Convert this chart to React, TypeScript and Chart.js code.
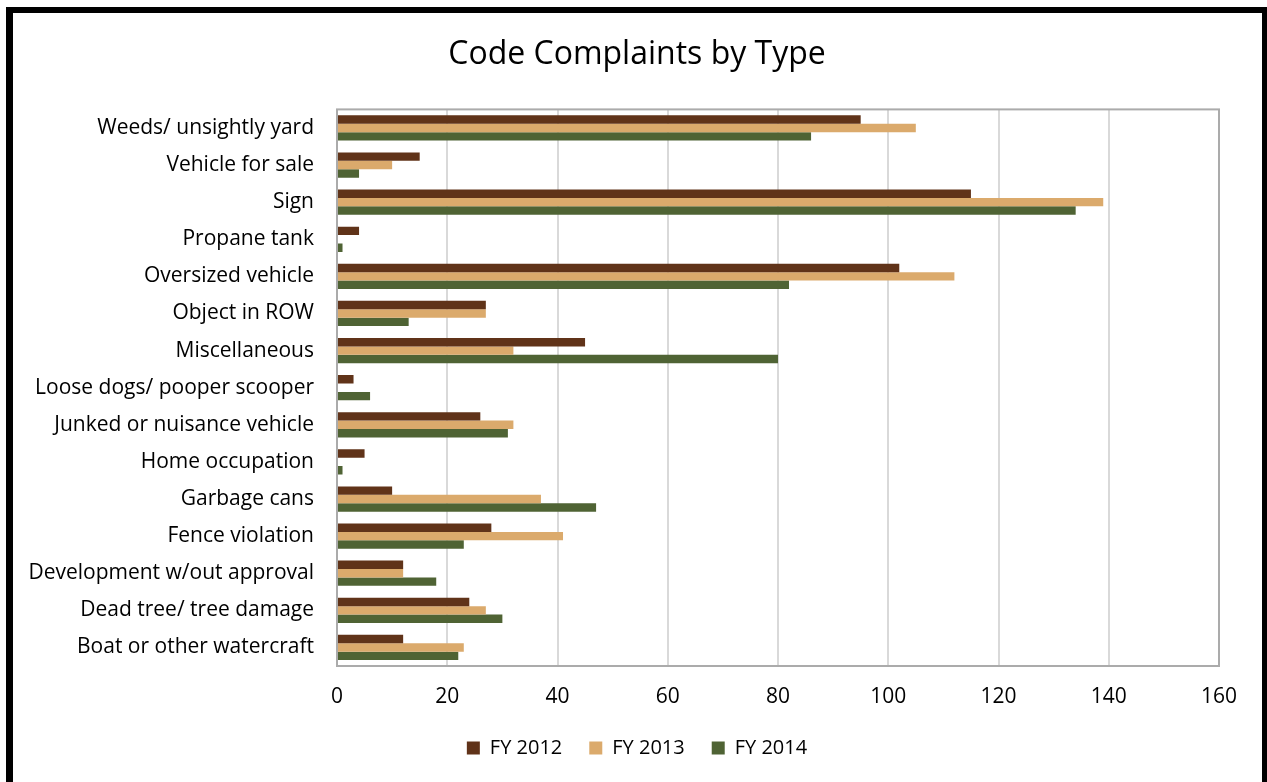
import React, { useEffect, useRef } from "react";
import { Chart, registerables } from "chart.js";

Chart.register(...registerables);

const categories = [
  "Weeds/ unsightly yard",
  "Vehicle for sale",
  "Sign",
  "Propane tank",
  "Oversized vehicle",
  "Object in ROW",
  "Miscellaneous",
  "Loose dogs/ pooper scooper",
  "Junked or nuisance vehicle",
  "Home occupation",
  "Garbage cans",
  "Fence violation",
  "Development w/out approval",
  "Dead tree/ tree damage",
  "Boat or other watercraft",
];

const fy2012 = [95, 15, 115, 4, 102, 27, 45, 3, 26, 5, 10, 28, 12, 24, 12];
const fy2013 = [105, 10, 139, 0, 112, 27, 32, 0, 32, 0, 37, 41, 12, 27, 23];
const fy2014 = [86, 4, 134, 1, 82, 13, 80, 6, 31, 1, 47, 23, 18, 30, 22];

const seriesLabels = ["FY 2012", "FY 2013", "FY 2014"];
const seriesColors = ["#603319", "#DBAA6C", "#4F6334"];

const FONT = "'Open Sans', 'Noto Sans', sans-serif";

// Gray frame around the plot area
const plotFrame = {
  id: "plotFrame",
  afterDatasetsDraw(chart: any) {
    const { ctx, chartArea } = chart;
    ctx.save();
    ctx.strokeStyle = "#ABABAB";
    ctx.lineWidth = 2;
    ctx.strokeRect(chartArea.left, chartArea.top, chartArea.right - chartArea.left, chartArea.bottom - chartArea.top);
    ctx.restore();
  },
};

// Center the title and legend over the whole framed chart, not just the plot column
const centerBlocks = {
  id: "centerBlocks",
  afterLayout(chart: any) {
    const shift = 55;
    [chart.titleBlock, chart.legend].forEach((box: any) => {
      if (box) {
        box.left = shift;
        box.width = box.right - shift;
      }
    });
  },
};

export default function App() {
  const canvasRef = useRef<HTMLCanvasElement | null>(null);

  useEffect(() => {
    if (!canvasRef.current) return;
    const chart = new Chart(canvasRef.current, {
      type: "bar",
      data: {
        labels: categories,
        datasets: [fy2012, fy2013, fy2014].map((values, i) => ({
          label: seriesLabels[i],
          data: values,
          backgroundColor: seriesColors[i],
          borderWidth: 0,
          categoryPercentage: 0.68,
          barPercentage: 1.0,
        })),
      },
      plugins: [plotFrame, centerBlocks],
      options: {
        indexAxis: "y",
        animation: false,
        responsive: false,
        maintainAspectRatio: false,
        layout: { padding: { left: 0, right: 48, top: 0, bottom: 14 } },
        plugins: {
          title: {
            display: true,
            text: "Code Complaints by Type",
            color: "#000000",
            font: { family: FONT, size: 32, weight: "normal" },
            padding: { top: 36, bottom: 35 },
          },
          legend: {
            position: "bottom",
            labels: {
              color: "#000000",
              font: { family: FONT, size: 20 },
              boxWidth: 13,
              boxHeight: 13,
              padding: 27,
            },
          },
          tooltip: { enabled: false },
        },
        scales: {
          x: {
            min: 0,
            max: 160,
            ticks: {
              stepSize: 20,
              color: "#000000",
              font: { family: FONT, size: 21 },
              padding: 18,
            },
            grid: { color: "#D9D9D9", lineWidth: 2, drawTicks: false },
            border: { display: false },
            afterFit(scale: any) {
              scale.height = 45;
            },
          },
          y: {
            ticks: {
              color: "#000000",
              font: { family: FONT, size: 21 },
              padding: 23,
              autoSkip: false,
            },
            grid: { display: false, drawTicks: false },
            border: { display: false },
            afterFit(scale: any) {
              scale.width = 337;
            },
          },
        },
      },
    });
    return () => chart.destroy();
  }, []);

  return (
    <div style={{ position: "fixed", left: 0, top: 0, width: 1267, height: 782, background: "#FFFFFF", overflow: "hidden" }}>
      <canvas ref={canvasRef} width={1267} height={782} style={{ position: "absolute", left: 0, top: 0 }} />
      <div
        style={{
          position: "absolute",
          left: 6,
          top: 7,
          width: 1267 - 6,
          height: 800,
          borderLeft: "7px solid #000",
          borderTop: "6px solid #000",
          borderRight: "5px solid #000",
          boxSizing: "border-box",
          pointerEvents: "none",
        }}
      />
    </div>
  );
}
